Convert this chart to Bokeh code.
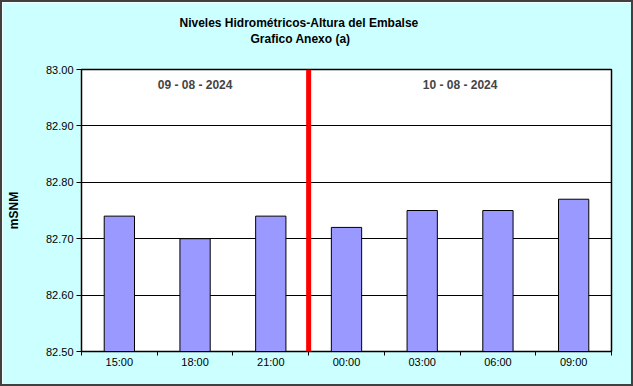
from bokeh.plotting import figure
from bokeh.models import FixedTicker, Range1d, Span, Label, NumeralTickFormatter, ColumnDataSource, Title
from bokeh.embed import file_html
from bokeh.resources import INLINE

categories = ["15:00", "18:00", "21:00", "00:00", "03:00", "06:00", "09:00"]
levels = [82.74, 82.70, 82.74, 82.72, 82.75, 82.75, 82.77]
y_ticks = [82.50, 82.60, 82.70, 82.80, 82.90, 83.00]
day_labels = ["09 - 08 - 2024", "10 - 08 - 2024"]
day_positions = [1.5, 5.0]
day_change = 3
title_lines = ["Niveles Hidrométricos-Altura del Embalse", "Grafico Anexo (a)"]
y_title = "mSNM"

n = len(categories)
xs = [i + 0.5 for i in range(n)]
src = ColumnDataSource(dict(x=xs, top=levels))

p = figure(width=633, height=386, output_backend="svg", toolbar_location=None, title=None,
           x_range=Range1d(0, n), y_range=Range1d(y_ticks[0], y_ticks[-1]),
           min_border_left=79, min_border_right=24, min_border_top=67, min_border_bottom=37,
           background_fill_color="white", border_fill_color="#CCFFFF")
p.styles = {"box-sizing": "border-box", "border": "2px solid #404040"}
p.outline_line_color = "black"
p.outline_line_width = 1.5

p.vbar(x="x", top="top", bottom=y_ticks[0], width=0.4, source=src,
       fill_color="#9999FF", line_color="black", line_width=1)

p.xgrid.visible = False
p.ygrid.ticker = FixedTicker(ticks=y_ticks)
p.ygrid.grid_line_color = "black"
p.ygrid.grid_line_width = 1

p.yaxis.ticker = FixedTicker(ticks=y_ticks)
p.yaxis.formatter = NumeralTickFormatter(format="0.00")
p.yaxis.major_tick_out = 5
p.yaxis.major_tick_in = 0
p.yaxis.minor_tick_out = 0
p.yaxis.major_label_text_font = "Liberation Sans"
p.yaxis.major_label_text_font_size = "11px"
p.yaxis.major_label_text_color = "black"
p.yaxis.major_label_standoff = 3
p.yaxis.axis_line_color = "black"
p.yaxis.major_tick_line_color = "black"
p.yaxis.axis_label = y_title
p.yaxis.axis_label_standoff = 22
p.yaxis.axis_label_text_font = "Liberation Sans"
p.yaxis.axis_label_text_font_style = "bold"
p.yaxis.axis_label_text_font_size = "12px"
p.yaxis.axis_label_text_color = "black"

p.xaxis.ticker = FixedTicker(ticks=xs, minor_ticks=list(range(n + 1)))
p.xaxis.major_label_overrides = {x: c for x, c in zip(xs, categories)}
p.xaxis.major_tick_out = 0
p.xaxis.major_tick_in = 0
p.xaxis.minor_tick_out = 4
p.xaxis.minor_tick_in = 0
p.xaxis.minor_tick_line_color = "black"
p.xaxis.axis_line_color = "black"
p.xaxis.major_label_text_font = "Liberation Sans"
p.xaxis.major_label_text_font_size = "11px"
p.xaxis.major_label_text_color = "black"
p.xaxis.major_label_standoff = 0

p.add_layout(Span(location=day_change, dimension="height", line_color="#FF0000", line_width=5))

for lbl, xp in zip(day_labels, day_positions):
    p.add_layout(Label(x=xp, y=y_ticks[-1], text=lbl, text_font="Liberation Sans",
                       text_font_style="bold", text_font_size="12px", text_align="center",
                       text_baseline="top", y_offset=-8))

# panels above the frame stack outward in the order they are added
p.add_layout(Title(text=" ", standoff=21, text_font_size="1px"), "above")
p.add_layout(Title(text=title_lines[1], align="left", offset=169, standoff=0,
                   text_font="Liberation Sans", text_font_style="bold", text_font_size="12px",
                   text_color="black"), "above")
p.add_layout(Title(text=title_lines[0], align="left", offset=98, standoff=0,
                   text_font="Liberation Sans", text_font_style="bold", text_font_size="12px",
                   text_color="black"), "above")

open("out.html", "w").write(file_html(p, INLINE))
